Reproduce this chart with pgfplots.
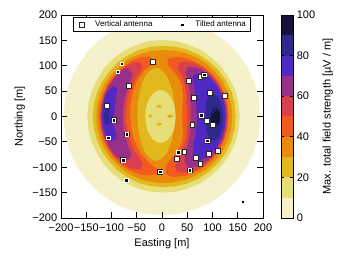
\documentclass[border=0pt]{standalone}
\usepackage{fontspec}
\setmainfont{Liberation Sans}
\usepackage{pgfplots}
\pgfplotsset{compat=1.18}
\definecolor{c0}{HTML}{F5F2CB}
\definecolor{c1}{HTML}{E8DE78}
\definecolor{c2}{HTML}{E2B81E}
\definecolor{c3}{HTML}{E98C0E}
\definecolor{c4}{HTML}{F25A1E}
\definecolor{c5}{HTML}{D8404E}
\definecolor{c6}{HTML}{963088}
\definecolor{c7}{HTML}{5028C4}
\definecolor{c8}{HTML}{2E2A8C}
\definecolor{c9}{HTML}{141238}
\pgfplotsset{mylegimg/.style={legend image code/.code={\path[draw=none,fill=none] (0pt,-1pt) rectangle (17pt,1pt); \path[##1, draw=none, fill=none] plot coordinates {(6pt,0pt)};}}}
\begin{document}
\fontsize{11}{13}\selectfont
\begin{tikzpicture}
\begin{axis}[name=main, width=202pt, height=203pt, scale only axis,
  xmin=-200, xmax=200, ymin=-200, ymax=200,
  xtick={-200,-150,...,200}, xticklabels={−200,−150,−100,−50,0,50,100,150,200},
  ytick={-200,-150,...,200}, yticklabels={−200,−150,−100,−50,0,50,100,150,200},
  xlabel={Easting [m]}, ylabel={Northing [m]},
  axis on top, axis line style={line width=0.9pt},
  tick style={line width=0.8pt, black}, major tick length=6pt, tick align=inside,
  tick label style={font=\fontsize{11}{12}\selectfont},
  xticklabel style={inner xsep=0pt, yshift=-1.5pt},
  label style={font=\fontsize{11}{12}\selectfont},
  mylegimg,
  legend style={at={(0.5,0.988)}, anchor=north, legend columns=2, draw=black, line width=0.8pt,
    font=\fontsize{8}{9}\selectfont, inner ysep=1pt, inner xsep=3pt,
    /tikz/every even column/.append style={column sep=22pt}},
]
% 0-10
\addplot[forget plot, draw=none, fill=c0, data cs=polar] coordinates {
(0,195)(10,195)(20,195)(30,195)(40,195)(50,195)(60,195)(70,195)(80,195)(90,195)(100,195)(110,195)
(120,195)(130,195)(140,195)(150,195)(160,195)(170,195)(180,195)(190,195)(200,195)(210,195)(220,195)(230,195)
(240,195)(250,195)(260,195)(270,195)(280,195)(290,195)(300,195)(310,195)(320,195)(330,195)(340,195)(350,195)};
% 10-20
\addplot[forget plot, draw=none, fill=c1, data cs=polar] coordinates {
(0,154)(10,154)(20,154)(30,153)(40,153)(50,152)(60,152)(70,151)(80,151)(90,151)(100,151)(110,150)
(120,150)(130,149)(140,149)(150,148)(160,148)(170,148)(180,148)(190,148)(200,148)(210,148)(220,149)(230,149)
(240,150)(250,150)(260,150)(270,150)(280,151)(290,151)(300,152)(310,152)(320,153)(330,153)(340,154)(350,154)};
% 20-30
\addplot[forget plot, draw=none, fill=c2, data cs=polar] coordinates {
(0,146)(10,146)(20,146)(30,145)(40,144)(50,143)(60,142)(70,141)(80,140)(90,139)(100,139)(110,139)
(120,138)(130,138)(140,137)(150,137)(160,137)(170,137)(180,137)(190,137)(200,137)(210,137)(220,137)(230,138)
(240,138)(250,139)(260,139)(270,139)(280,140)(290,141)(300,142)(310,143)(320,144)(330,145)(340,146)(350,146)};
% 30-40
\addplot[forget plot, draw=none, fill=c3, data cs=polar] coordinates {
(0,139)(10,139)(20,139)(30,138)(40,137)(50,136)(60,135)(70,134)(80,132)(90,131)(100,131)(110,131)
(120,131)(130,130)(140,130)(150,130)(160,130)(170,130)(180,130)(190,130)(200,130)(210,130)(220,130)(230,130)
(240,131)(250,131)(260,131)(270,131)(280,132)(290,133)(300,134)(310,136)(320,137)(330,138)(340,139)(350,139)};
% inner gold
\addplot[forget plot, draw=none, fill=c2] coordinates {
(26,4)(24.8,27.5)(21,49.5)(15,68.5)(7,83)(-2,92)(-12,96)(-22,92)(-31,83)(-38.5,68.5)(-44,49.5)(-47.5,27.5)
(-49,4)(-47.5,-19.5)(-44,-41.5)(-38.5,-60.5)(-31,-75)(-22,-84)(-12,-88)(-2,-84)(7,-75)(15,-60.5)(21,-41.5)(24.8,-19.5)};
% inner light yellow
\addplot[forget plot, draw=none, fill=c1] coordinates {
(27,0)(26,13.5)(23,26)(18.2,36.8)(12,45)(4.8,50.2)(-3,52)(-10.8,50.2)(-18,45)(-24.2,36.8)(-29,26)(-32,13.5)
(-33,0)(-32,-13.5)(-29,-26)(-24.2,-36.8)(-18,-45)(-10.8,-50.2)(-3,-52)(4.8,-50.2)(12,-45)(18.2,-36.8)(23,-26)(26,-13.5)};
% small streaks in the core
\addplot[forget plot, draw=none, fill=c2] coordinates {(-28,1)(-25,4)(-20,3)(-19,0)(-21,-2)(-26,-2)};
\addplot[forget plot, draw=none, fill=c2] coordinates {(10,1)(14,4)(20,3)(22,0)(19,-2)(13,-2)};
\addplot[forget plot, draw=none, fill=c3] coordinates {(12,0.5)(15,2)(18,1)(17,-1)(14,-1)};
\addplot[forget plot, draw=none, fill=c2] coordinates {(-12,20)(-6,23)(0,21)(-2,17)(-8,17)};
\addplot[forget plot, draw=none, fill=c2] coordinates {(-12,-15)(-6,-12)(0,-14)(-2,-18)(-8,-18)};
% 40-50 left
\addplot[forget plot, draw=none, fill=c4, data cs=polar] coordinates {
(100,118)(105,122)(110,124)(120,125)(130,125)(140,125)(150,125)(160,125)(170,125)(180,125)(190,125)(200,125)
(210,125)(220,125)(230,125)(240,124)(250,122)(258,119)(265,113)
(265,104)(258,98)(250,91)(240,84)(230,77)(220,72)(210,68)(200,65)(190,63)(180,63)(170,64)(160,66)
(150,70)(140,75)(130,82)(120,90)(110,98)(100,106)};
% 40-50 right
\addplot[forget plot, draw=none, fill=c4, data cs=polar] coordinates {
(-86,114)(-80,121)(-70,125)(-60,128)(-50,130)(-40,131)(-30,132)(-20,132)(-10,132)(0,132)(10,132)(20,132)
(30,131)(40,130)(50,128)(60,126)(70,124)(78,120)(84,114)
(84,103)(78,95)(70,86)(60,75)(50,64)(40,54)(30,47)(20,43)(10,41)(0,40)(-10,41)(-20,43)
(-30,48)(-40,55)(-50,63)(-60,70)(-70,78)(-80,88)(-86,100)};
% 50-60 left
\addplot[forget plot, draw=none, fill=c5, data cs=polar] coordinates {
(112,116)(120,121)(130,123)(140,123)(150,123)(160,123)(170,122)(180,122)(190,122)(200,122)(210,123)(220,123)
(230,122)(240,119)(248,112)
(248,100)(240,92)(230,86)(220,80)(210,76)(200,73)(190,72)(180,72)(170,72)(160,74)(150,78)(140,82)
(130,88)(120,95)(112,104)};
% 50-60 right
\addplot[forget plot, draw=none, fill=c5, data cs=polar] coordinates {
(-75,112)(-70,118)(-60,124)(-50,127)(-40,129)(-30,130)(-20,130)(-10,130)(0,130)(10,130)(20,130)(30,129)
(40,128)(50,126)(60,122)(66,118)(72,112)
(72,100)(66,92)(60,84)(50,73)(40,63)(30,56)(20,52)(10,50)(0,50)(-10,51)(-20,53)(-30,57)
(-40,63)(-50,70)(-60,78)(-68,88)(-75,100)};
% 60-70 left
\addplot[forget plot, draw=none, fill=c6, data cs=polar] coordinates {
(125,116)(130,120)(140,121)(150,121)(160,121)(170,121)(180,121)(190,121)(200,121)(210,121)(220,120)(226,117)
(232,110)
(232,98)(226,92)(220,88)(210,83)(200,80)(190,78)(180,78)(170,78)(160,80)(150,83)(140,88)(130,95)
(125,102)};
% 60-70 right
\addplot[forget plot, draw=none, fill=c6, data cs=polar] coordinates {
(-63,112)(-60,117)(-50,123)(-40,126)(-30,127)(-20,128)(-10,128)(0,128)(10,128)(20,128)(30,127)(40,125)
(50,121)(56,117)(62,110)
(62,98)(56,90)(50,82)(40,72)(30,64)(20,60)(10,58)(0,57)(-10,58)(-20,60)(-30,64)(-40,70)
(-50,78)(-57,86)(-63,98)};
% 70-80 left
\addplot[forget plot, draw=none, fill=c7, data cs=polar] coordinates {
(148,113)(155,118)(160,119)(170,119)(180,119)(190,119)(200,117)(206,112)
(206,100)(200,98)(190,96)(180,95)(170,95)(160,97)(155,100)(148,104)};
% 70-80 right
\addplot[forget plot, draw=none, fill=c7, data cs=polar] coordinates {
(-52,108)(-48,115)(-40,121)(-30,124)(-20,125)(-10,126)(0,126)(10,126)(20,125)(30,124)(40,121)(46,116)
(52,108)
(52,98)(46,90)(40,84)(30,76)(20,72)(10,70)(0,70)(-10,70)(-20,72)(-30,76)(-40,82)(-46,90)
(-52,98)};
% 80-90
\addplot[forget plot, draw=none, fill=c8, data cs=polar] coordinates {
(-25,115)(-20,120)(-10,121)(0,121)(10,120)(20,117)(24,110)
(24,100)(20,94)(10,88)(0,86)(-10,88)(-20,95)(-25,105)};
\addplot[forget plot, draw=none, fill=c8, data cs=polar] coordinates {
(172,113)(180,115)(188,113)(188,105)(180,104)(172,106)};
% 90-100
\addplot[forget plot, draw=none, fill=c9] coordinates {
(96,-5)(98,10)(100,2)(102,18)(105,5)(107,22)(110,8)(113,15)(115,0)(114,-12)(110,-20)(106,-8)(103,-22)(100,-10)(97,-18)};
% markers
\addplot[only marks, mark=square*, mark size=2.4pt, mark options={fill=white, draw=black!85, line width=0.6pt}] coordinates {
(-18,108)(-66,60)(-110,21)(-95,-6)(-70,-35)(-77,-86)(-4,-109)
(53,70)(76,78)(83,82)(94,47)(124,40)(63,37)(60,-16)(78,2)(88,-9)(100,-16)(90,-48)
(92,-74)(111,-68)(44,-70)(29,-84)(67,-81)(76,-94)(55,-106)};
\addlegendentry{Vertical antenna}
\addplot[only marks, mark=square*, mark size=1.8pt, mark options={fill=black, draw=white, line width=0.4pt}] coordinates {
(-80,104)(-88,88)(-96,-7)(-106,-42)(-70,-35)(-77,-86)(-71,-125)(-4,-109)(160,-168)
(83,82)(78,2)(90,-48)(32,-70)(55,-106)};
\addlegendentry{Tilted antenna}
\end{axis}
\begin{axis}[name=cb, at={(main.south east)}, anchor=south west, xshift=18pt,
  width=12pt, height=203pt, scale only axis,
  xmin=0, xmax=1, ymin=0, ymax=100, xtick=\empty,
  ytick={0,20,...,100}, yticklabel pos=right, ylabel near ticks,
  ylabel={Max. total field strength [µV / m]},
  axis on top, axis line style={line width=0.9pt},
  tick style={line width=0.8pt, black}, major tick length=3pt, tick align=inside,
  tick label style={font=\fontsize{11}{12}\selectfont},
  /pgf/number format/assume math mode=true,
  label style={font=\fontsize{11}{12}\selectfont},
]
\addplot[draw=none, fill=c0] coordinates {(0,0)(1,0)(1,10)(0,10)};
\addplot[draw=none, fill=c1] coordinates {(0,10)(1,10)(1,20)(0,20)};
\addplot[draw=none, fill=c2] coordinates {(0,20)(1,20)(1,30)(0,30)};
\addplot[draw=none, fill=c3] coordinates {(0,30)(1,30)(1,40)(0,40)};
\addplot[draw=none, fill=c4] coordinates {(0,40)(1,40)(1,50)(0,50)};
\addplot[draw=none, fill=c5] coordinates {(0,50)(1,50)(1,60)(0,60)};
\addplot[draw=none, fill=c6] coordinates {(0,60)(1,60)(1,70)(0,70)};
\addplot[draw=none, fill=c7] coordinates {(0,70)(1,70)(1,80)(0,80)};
\addplot[draw=none, fill=c8] coordinates {(0,80)(1,80)(1,90)(0,90)};
\addplot[draw=none, fill=c9] coordinates {(0,90)(1,90)(1,100)(0,100)};
\end{axis}
\pgfresetboundingbox
\path (main.south west) ++(-61pt,-43pt) rectangle ++(343pt,261pt);
\end{tikzpicture}
\end{document}
